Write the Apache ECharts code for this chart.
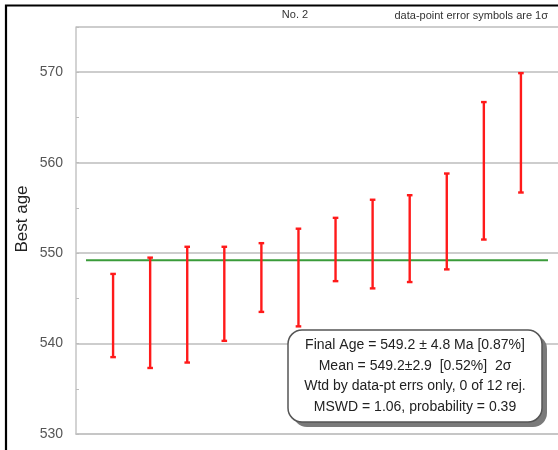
<!DOCTYPE html>
<html>
<head>
<meta charset="utf-8">
<script src="https://cdn.jsdelivr.net/npm/echarts@6/dist/echarts.min.js"></script>
<style>
html,body{margin:0;padding:0;background:#fff;}
#chart{width:558px;height:450px;}
</style>
</head>
<body>
<div id="chart"></div>
<script>
// Spot-by-spot ages (Ma) with 1-sigma uncertainties, sorted by age
const spotIndex = [1, 2, 3, 4, 5, 6, 7, 8, 9, 10, 11, 12];
const bestAge = [543.1, 543.4, 544.3, 545.5, 547.3, 547.3, 550.4, 551.0, 551.6, 553.5, 559.1, 563.3];
const err1s = [4.6, 6.1, 6.4, 5.2, 3.8, 5.4, 3.5, 4.9, 4.8, 5.3, 7.6, 6.6];

// Weighted mean age and the horizontal extent of its reference line
const finalAge = 549.2;
const meanLineSpan = [0.27, 12.73];

// Labelled ticks on the age axis
const yTickLabels = [530, 540, 550, 560, 570];

const sampleTitle = 'No. 2';
const errNote = 'data-point error symbols are 1\u03c3';
const yName = 'Best age';
const statLines = [
  'Final Age = 549.2 \u00b1 4.8 Ma [0.87%]',
  'Mean = 549.2\u00b12.9  [0.52%]  2\u03c3',
  'Wtd by data-pt errs only, 0 of 12 rej.',
  'MSWD = 1.06, probability = 0.39'
];

const FONT = '"Liberation Sans", Arial, sans-serif';
const chart = echarts.init(document.getElementById('chart'), null, {renderer: 'canvas'});

const errData = spotIndex.map((x, i) => [x, bestAge[i] - err1s[i], bestAge[i] + err1s[i]]);

const option = {
  backgroundColor: '#ffffff',
  animation: false,
  grid: {left: 76, top: 27, right: 0, bottom: 16, containLabel: false},
  xAxis: {
    type: 'value', min: 0, max: 13,
    axisLine: {show: true, onZero: false, lineStyle: {color: '#c4c4c4', width: 1.5}},
    axisTick: {show: false}, axisLabel: {show: false}, splitLine: {show: false}
  },
  yAxis: [{
    type: 'value', min: 530, max: 575, interval: 10,
    axisLine: {show: true, lineStyle: {color: '#c4c4c4', width: 1.5}},
    axisTick: {show: false},
    splitLine: {show: true, lineStyle: {color: '#bdbdbd', width: 1.5}},
    axisLabel: {
      color: '#555', fontFamily: FONT, fontSize: 14, margin: 13,
      formatter: v => (yTickLabels.indexOf(v) >= 0 ? String(v) : '')
    }
  }, {
    // half-step ticks drawn inside the axis
    type: 'value', min: 530, max: 575, interval: 5, position: 'left',
    axisLine: {show: false},
    axisTick: {show: true, inside: true, length: 3, lineStyle: {color: '#bdbdbd', width: 1}},
    axisLabel: {show: false}, splitLine: {show: false}
  }],
  graphic: [
    // outer frame (left and top edges visible)
    {type: 'rect', shape: {x: 6, y: 5.5, width: 600, height: 500},
     style: {fill: 'none', stroke: '#000', lineWidth: 2.2}, z: 100},
    {type: 'text', x: 295, y: 15, style: {text: sampleTitle, font: '11px ' + FONT, fill: '#333', align: 'center', verticalAlign: 'middle'}},
    {type: 'text', x: 548, y: 16, style: {text: errNote, font: '11px ' + FONT, fill: '#333', align: 'right', verticalAlign: 'middle'}},
    {type: 'text', x: 22, y: 219, rotation: Math.PI / 2,
     style: {text: yName, font: '17px ' + FONT, fill: '#222', align: 'center', verticalAlign: 'middle'}},
    // statistics box with drop shadow
    {type: 'rect', shape: {x: 293, y: 335, width: 254, height: 92, r: 14},
     style: {fill: '#7a7a7a'}, z: 50},
    {type: 'rect', shape: {x: 288, y: 330, width: 254, height: 92, r: 14},
     style: {fill: '#fff', stroke: '#555', lineWidth: 1.5}, z: 51},
    ...statLines.map((t, i) => ({
      type: 'text', x: 415, y: 345 + i * 20.7, z: 52,
      style: {text: t, font: '14px ' + FONT, fill: '#222', align: 'center', verticalAlign: 'middle'}
    }))
  ],
  series: [{
    type: 'line', z: 3,
    data: [[meanLineSpan[0], finalAge], [meanLineSpan[1], finalAge]],
    symbol: 'none', silent: true,
    lineStyle: {color: '#3a9b3a', width: 2}
  }, {
    type: 'custom', z: 5,
    data: errData,
    encode: {x: 0, y: [1, 2]},
    renderItem: function (params, api) {
      const x = api.value(0);
      const lo = api.coord([x, api.value(1)]);
      const hi = api.coord([x, api.value(2)]);
      const cap = 2.8;
      const st = {stroke: '#ff1a1a', lineWidth: 2.4};
      return {type: 'group', children: [
        {type: 'line', shape: {x1: hi[0], y1: hi[1], x2: lo[0], y2: lo[1]}, style: st},
        {type: 'line', shape: {x1: hi[0] - cap, y1: hi[1], x2: hi[0] + cap, y2: hi[1]}, style: st},
        {type: 'line', shape: {x1: lo[0] - cap, y1: lo[1], x2: lo[0] + cap, y2: lo[1]}, style: st}
      ]};
    }
  }]
};
chart.setOption(option);
</script>
</body>
</html>
